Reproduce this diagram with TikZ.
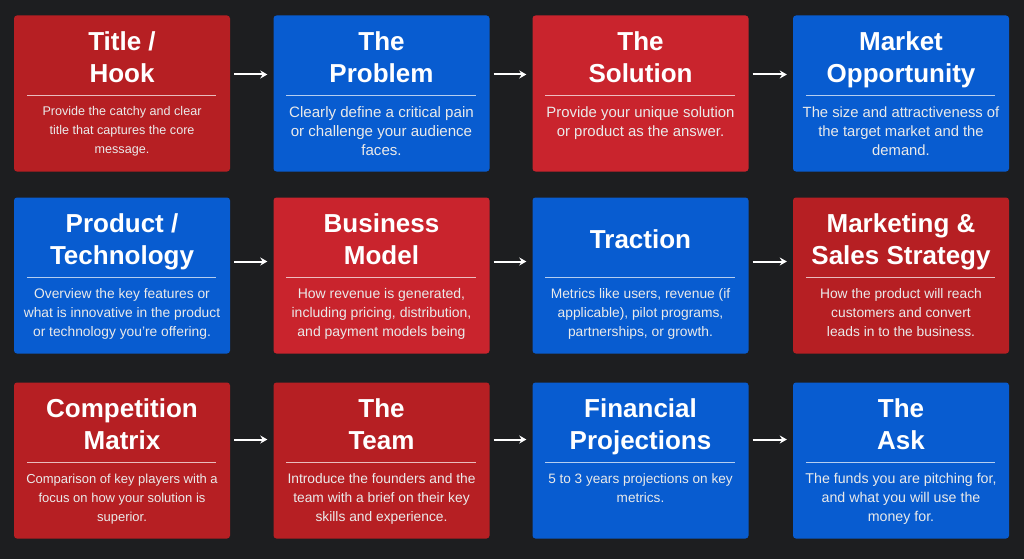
\documentclass[tikz,border=0pt]{standalone}
\usepackage{fontspec}
\setmainfont{Liberation Sans}
\usepackage{tikz}
\usetikzlibrary{calc, positioning, arrows.meta}
\definecolor{deckbg}{RGB}{29,30,32}
\definecolor{deckred}{RGB}{182,31,35}
\definecolor{deckredb}{RGB}{201,36,45}
\definecolor{deckblue}{RGB}{8,92,208}
\definecolor{decktxt}{RGB}{234,234,234}
\tikzstyle{card}=[draw=none, rounded corners=3pt, minimum width=216pt, minimum height=156pt, inner sep=0pt]
\tikzstyle{head}=[inner sep=0pt, text=white, align=center, text depth=0pt, font=\bfseries\fontsize{26}{32}\selectfont]
\tikzstyle{divider}=[draw=white, opacity=.7, line width=1pt]
\tikzstyle{flow}=[draw=white, line width=2pt, ->, shorten <=4pt, shorten >=6pt]
\tikzset{body/.style={inner sep=0pt, anchor=north, text=decktxt, align=center, font=\fontsize{#1}{19}\selectfont}, body/.default=13.8}
\tikzset{>={Stealth[length=7pt, width=8pt]}}

\begin{document}
\begin{tikzpicture}[x=1pt, y=-1pt]
\fill[deckbg] (0,0) rectangle (1024,559);

% row 1
\node[card, fill=deckred] (C1) at (122,93.5) {};
\node[card, fill=deckblue] (C2) at (381.5,93.5) {};
\node[card, fill=deckredb] (C3) at (640.5,93.5) {};
\node[card, fill=deckblue] (C4) at (901,93.5) {};
% row 2
\node[card, fill=deckblue] (C5) at (122,275.5) {};
\node[card, fill=deckredb] (C6) at (381.5,275.5) {};
\node[card, fill=deckblue] (C7) at (640.5,275.5) {};
\node[card, fill=deckred] (C8) at (901,275.5) {};
% row 3
\node[card, fill=deckred] (C9) at (122,460.5) {};
\node[card, fill=deckred] (C10) at (381.5,460.5) {};
\node[card, fill=deckblue] (C11) at (640.5,460.5) {};
\node[card, fill=deckblue] (C12) at (901,460.5) {};

\node[head] (T1) at ([yshift=36.5pt]C1.center) {Title /\\Hook};
\node[head] (T2) at ([yshift=36.5pt]C2.center) {The\\Problem};
\node[head] (T3) at ([yshift=36.5pt]C3.center) {The\\Solution};
\node[head] (T4) at ([yshift=36.5pt]C4.center) {Market\\Opportunity};
\node[head] (T5) at ([yshift=36.5pt]C5.center) {Product /\\Technology};
\node[head] (T6) at ([yshift=36.5pt]C6.center) {Business\\Model};
\node[head] (T7) at ([yshift=36.5pt]C7.center) {Traction};
\node[head] (T8) at ([yshift=36.5pt]C8.center) {Marketing \&\\Sales Strategy};
\node[head] (T9) at ([yshift=36.5pt]C9.center) {Competition\\Matrix};
\node[head] (T10) at ([yshift=36.5pt]C10.center) {The\\Team};
\node[head] (T11) at ([yshift=36.5pt]C11.center) {Financial\\Projections};
\node[head] (T12) at ([yshift=36.5pt]C12.center) {The\\Ask};

\foreach \c in {C1,C2,C3,C4,C5,C6,C7,C8,C9,C10,C11,C12}
  \draw[divider] ([xshift=13pt, yshift=-2pt]\c.west) -- ([xshift=-14pt, yshift=-2pt]\c.east);

\node[body=12.6] (B1) at ([yshift=-13pt]C1.center) {Provide the catchy and clear\\title that captures the core\\message.};
\node[body=15.1] (B2) at ([yshift=-13pt]C2.center) {Clearly define a critical pain\\or challenge your audience\\faces.};
\node[body=14.9] (B3) at ([yshift=-13pt]C3.center) {Provide your unique solution\\or product as the answer.};
\node[body=14.8] (B4) at ([yshift=-13pt]C4.center) {The size and attractiveness of\\the target market and the\\demand.};
\node[body] (B5) at ([yshift=-13pt]C5.center) {Overview the key features or\\what is innovative in the product\\or technology you're offering.};
\node[body=14] (B6) at ([yshift=-13pt]C6.center) {How revenue is generated,\\including pricing, distribution,\\and payment models being};
\node[body] (B7) at ([yshift=-13pt]C7.center) {Metrics like users, revenue (if\\applicable), pilot programs,\\partnerships, or growth.};
\node[body] (B8) at ([yshift=-13pt]C8.center) {How the product will reach\\customers and convert\\leads in to the business.};
\node[body=13] (B9) at ([yshift=-13pt]C9.center) {Comparison of key players with a\\focus on how your solution is\\superior.};
\node[body] (B10) at ([yshift=-13pt]C10.center) {Introduce the founders and the\\team with a brief on their key\\skills and experience.};
\node[body=13.6] (B11) at ([yshift=-13pt]C11.center) {5 to 3 years projections on key\\metrics.};
\node[body=14.2] (B12) at ([yshift=-13pt]C12.center) {The funds you are pitching for,\\and what you will use the\\money for.};

\draw[flow] ([yshift=19pt]C1.east) -- ([yshift=19pt]C2.west);
\draw[flow] ([yshift=19pt]C2.east) -- ([yshift=19pt]C3.west);
\draw[flow] ([yshift=19pt]C3.east) -- ([yshift=19pt]C4.west);
\draw[flow] ([yshift=14pt]C5.east) -- ([yshift=14pt]C6.west);
\draw[flow] ([yshift=14pt]C6.east) -- ([yshift=14pt]C7.west);
\draw[flow] ([yshift=14pt]C7.east) -- ([yshift=14pt]C8.west);
\draw[flow] ([yshift=21pt]C9.east) -- ([yshift=21pt]C10.west);
\draw[flow] ([yshift=21pt]C10.east) -- ([yshift=21pt]C11.west);
\draw[flow] ([yshift=21pt]C11.east) -- ([yshift=21pt]C12.west);
\end{tikzpicture}
\end{document}
